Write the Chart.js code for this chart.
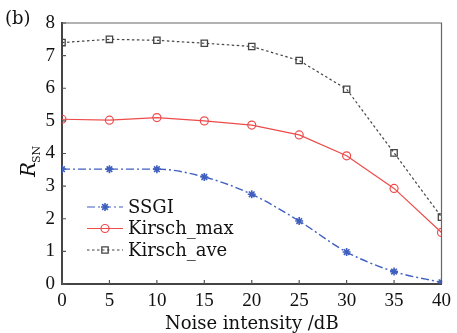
<!DOCTYPE html>
<html>
<head>
<meta charset="utf-8">
<script src="https://cdn.jsdelivr.net/npm/chart.js@4"></script>
<style>
  html, body { margin: 0; padding: 0; background: #fff; }
  #wrap { width: 457px; height: 333px; }
</style>
</head>
<body>
<div id="wrap"><canvas id="c" width="457" height="333"></canvas></div>
<script>
const noise = [0, 5, 10, 15, 20, 25, 30, 35, 40];
const ssgi = [3.52, 3.52, 3.52, 3.28, 2.75, 1.93, 0.98, 0.38, 0.05];
const kirschMax = [5.05, 5.02, 5.1, 5.0, 4.87, 4.57, 3.93, 2.93, 1.58];
const kirschAve = [7.4, 7.5, 7.47, 7.38, 7.28, 6.85, 5.97, 4.02, 2.05];
const yTicks = [0, 1, 2, 3, 4, 5, 6, 7, 8];

const FONT = '"DejaVu Serif", "Liberation Serif", serif';
const NUM_FONT = '"Liberation Serif", "DejaVu Serif", serif';

const pts = arr => arr.map((v, i) => ({ x: noise[i], y: v }));

// frame, inner ticks, y title, panel label and legend
const extras = {
  id: 'extras',
  afterDraw(chart) {
    const ctx = chart.ctx;
    const a = chart.chartArea;
    const xs = chart.scales.x, ys = chart.scales.y;
    ctx.save();
    ctx.strokeStyle = '#666';
    ctx.lineWidth = 1.2;
    ctx.beginPath();
    ctx.moveTo(a.left, a.top);
    ctx.lineTo(a.right, a.top);
    ctx.lineTo(a.right, a.bottom);
    ctx.stroke();

    ctx.strokeStyle = '#555';
    ctx.lineWidth = 1.2;
    ctx.beginPath();
    noise.forEach(v => {
      const px = xs.getPixelForValue(v);
      ctx.moveTo(px, a.bottom);
      ctx.lineTo(px, a.bottom - 4);
    });
    yTicks.forEach(v => {
      const py = ys.getPixelForValue(v);
      ctx.moveTo(a.left, py);
      ctx.lineTo(a.left + 4, py);
    });
    ctx.stroke();

    ctx.fillStyle = '#111';
    ctx.font = '18px ' + FONT;
    ctx.textBaseline = 'alphabetic';
    ctx.fillText('(b)', 5, 24);

    // R_SN
    ctx.translate(35, 162);
    ctx.rotate(-Math.PI / 2);
    ctx.font = 'italic 20px ' + FONT;
    ctx.fillText('R', -15, 0);
    ctx.font = '11px ' + FONT;
    ctx.fillText('SN', -1, 5);
    ctx.restore();

    // legend
    const ds = chart.data.datasets;
    ctx.save();
    ds.forEach((d, i) => {
      const y = 207 + i * 21.5;
      ctx.strokeStyle = d.borderColor;
      ctx.lineWidth = 1.2;
      ctx.setLineDash(d.borderDash || []);
      ctx.beginPath();
      ctx.moveTo(87, y);
      ctx.lineTo(123, y);
      ctx.stroke();
      ctx.setLineDash([]);
      ctx.fillStyle = 'rgba(0,0,0,0)';
      ctx.lineWidth = d.pointBorderWidth;
      Chart.helpers.drawPoint(ctx, {
        pointStyle: d.pointStyle, radius: d.pointRadius,
        borderWidth: d.pointBorderWidth, rotation: 0
      }, 105, y);
      ctx.fillStyle = '#111';
      ctx.font = '18px ' + FONT;
      ctx.textBaseline = 'middle';
      ctx.fillText(d.label, 128, y + 1);
    });
    ctx.restore();
  }
};

new Chart(document.getElementById('c'), {
  type: 'line',
  data: {
    datasets: [
      {
        label: 'SSGI', data: pts(ssgi),
        borderColor: '#3f5fbf', backgroundColor: '#3f5fbf',
        borderWidth: 1.4, borderDash: [8, 3, 2, 3],
        pointStyle: 'star', pointRadius: 4, pointBorderWidth: 1.6,
        tension: 0.35, cubicInterpolationMode: 'monotone'
      },
      {
        label: 'Kirsch_max', data: pts(kirschMax),
        borderColor: '#ee4b4b', backgroundColor: 'rgba(0,0,0,0)',
        borderWidth: 1.2,
        pointStyle: 'circle', pointRadius: 4, pointBorderWidth: 1.2,
        tension: 0
      },
      {
        label: 'Kirsch_ave', data: pts(kirschAve),
        borderColor: '#444', backgroundColor: 'rgba(0,0,0,0)',
        borderWidth: 1.2, borderDash: [2.5, 2.5],
        pointStyle: 'rect', pointRadius: 4.5, pointBorderWidth: 1.3,
        tension: 0
      }
    ]
  },
  options: {
    responsive: false,
    animation: false,
    layout: { padding: { top: 23, right: 14, left: 0, bottom: 0 } },
    plugins: { legend: { display: false }, tooltip: { enabled: false } },
    scales: {
      x: {
        type: 'linear', min: 0, max: 40,
        afterFit: s => { s.height = 49; },
        afterBuildTicks: s => { s.ticks = noise.map(v => ({ value: v })); },
        grid: { display: false, drawTicks: false },
        border: { color: '#444', width: 2 },
        ticks: { color: '#111', font: { family: NUM_FONT, size: 19 }, padding: 6, maxRotation: 0 },
        title: {
          display: true, text: 'Noise intensity /dB', color: '#111',
          font: { family: FONT, size: 18 }, padding: { top: 0, bottom: -2 }
        }
      },
      y: {
        min: 0, max: 8,
        afterFit: s => { s.width = 62; },
        afterBuildTicks: s => { s.ticks = yTicks.map(v => ({ value: v })); },
        grid: { display: false, drawTicks: false },
        border: { color: '#444', width: 2 },
        ticks: { color: '#111', font: { family: NUM_FONT, size: 19 }, padding: 7 }
      }
    }
  },
  plugins: [extras]
});
</script>
</body>
</html>
